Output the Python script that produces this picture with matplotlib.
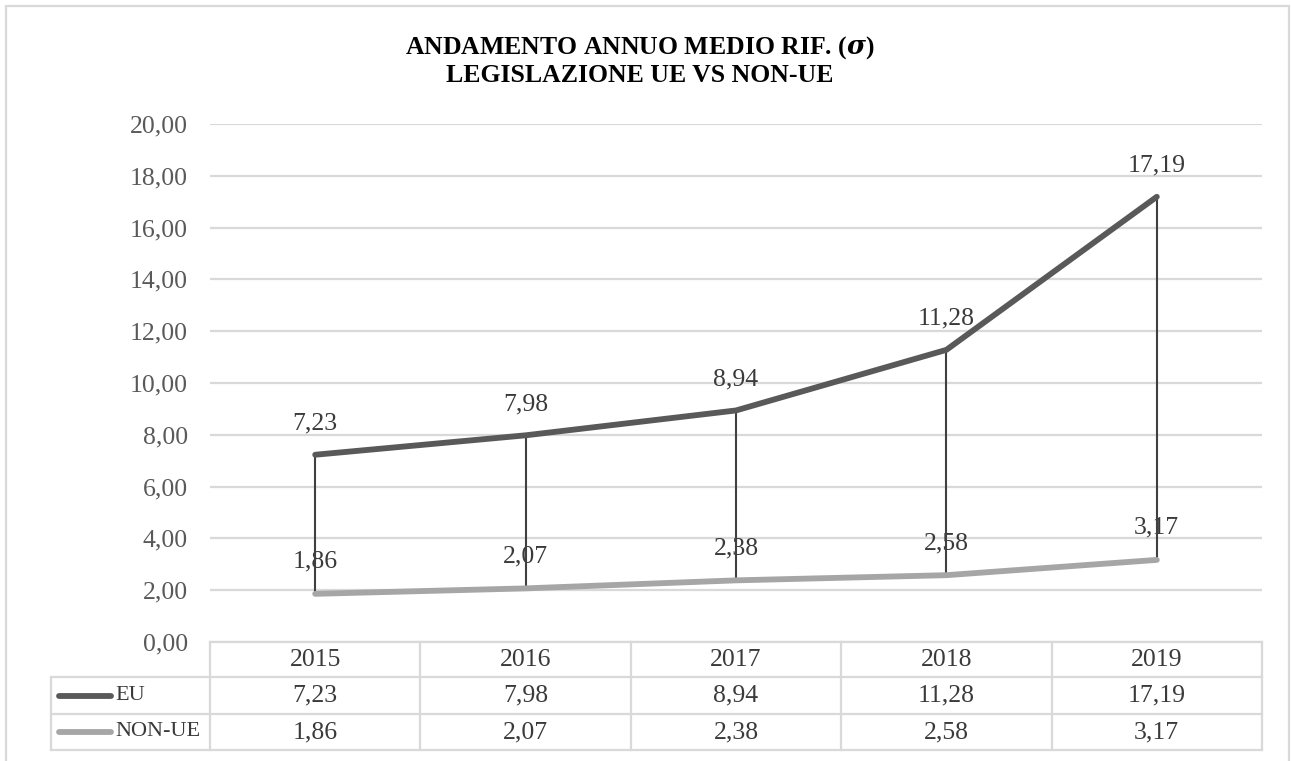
import matplotlib
matplotlib.use("Agg")
import matplotlib.pyplot as plt
from matplotlib.lines import Line2D
from matplotlib.patches import Rectangle

# --- data ---
years = ["2015", "2016", "2017", "2018", "2019"]
series_names = ["EU", "NON-UE"]
eu_values = [7.23, 7.98, 8.94, 11.28, 17.19]
nonue_values = [1.86, 2.07, 2.38, 2.58, 3.17]
y_ticks = [0, 2, 4, 6, 8, 10, 12, 14, 16, 18, 20]
title_line1 = "ANDAMENTO ANNUO MEDIO RIF. ("
title_line2 = "LEGISLAZIONE UE VS NON-UE"

plt.rcParams["font.family"] = ["Liberation Serif", "DejaVu Serif"]
plt.rcParams["mathtext.fontset"] = "custom"
plt.rcParams["mathtext.it"] = "DejaVu Serif:italic:bold"
plt.rcParams["mathtext.rm"] = "Liberation Serif:bold"

W, H = 1291, 761
fig = plt.figure(figsize=(W / 100, H / 100), dpi=100)


def fx(px):
    return px / W


def fy(py):
    return 1 - py / H


EU_COLOR = "#595959"
NON_COLOR = "#a6a6a6"
GRID = "#d9d9d9"
TEXT = "#3a3a3a"
FS = 18.5

# chart border
fig.add_artist(Rectangle((fx(6), fy(770)), fx(1289) - fx(6), fy(6) - fy(770),
                         transform=fig.transFigure, fill=False,
                         edgecolor=GRID, linewidth=1.6))

# plot area
left, right, top, bottom = 210, 1262, 124, 642
ax = fig.add_axes([fx(left), fy(bottom), fx(right) - fx(left), fy(top) - fy(bottom)])
x = list(range(len(years)))
ax.set_xlim(-0.5, len(years) - 0.5)
ax.set_ylim(0, 20)
ax.set_yticks(y_ticks)
ax.set_yticklabels([f"{v:.2f}".replace(".", ",") for v in y_ticks],
                   fontsize=FS, color="#595959")
ax.set_xticks([])
ax.tick_params(axis="y", length=0, pad=16)
for s in ax.spines.values():
    s.set_visible(False)
ax.yaxis.grid(True, color=GRID, linewidth=1.6)
ax.set_axisbelow(True)

# drop lines between the two series
ax.vlines(x, nonue_values, eu_values, color="#404040", linewidth=1.5, zorder=3)

ax.plot(x, eu_values, color=EU_COLOR, linewidth=4.2, solid_capstyle="round", zorder=4)
ax.plot(x, nonue_values, color=NON_COLOR, linewidth=4.2, solid_capstyle="round", zorder=4)

for xi, v in zip(x, eu_values):
    ax.annotate(f"{v:.2f}".replace(".", ","), (xi, v), xytext=(0, 22.5),
                textcoords="offset points", ha="center", va="center",
                fontsize=FS, color=TEXT, zorder=2)
for xi, v in zip(x, nonue_values):
    ax.annotate(f"{v:.2f}".replace(".", ","), (xi, v), xytext=(0, 23),
                textcoords="offset points", ha="center", va="center",
                fontsize=FS, color=TEXT, zorder=2)

# title
fig.text(fx(640), fy(48), title_line1 + r"$\sigma$" + ")", ha="center", va="center",
         fontsize=18.5, fontweight="bold", color="black")
fig.text(fx(640), fy(75), title_line2, ha="center", va="center",
         fontsize=18.5, fontweight="bold", color="black")

# data table
col_w = (right - left) / len(years)
row_y = [642, 677, 714, 750]
leg_left = 51


def hline(x0, x1, y):
    fig.add_artist(Line2D([fx(x0), fx(x1)], [fy(y), fy(y)], transform=fig.transFigure,
                          color=GRID, linewidth=1.6))


def vline(xp, y0, y1):
    fig.add_artist(Line2D([fx(xp), fx(xp)], [fy(y0), fy(y1)], transform=fig.transFigure,
                          color=GRID, linewidth=1.6))


hline(left, right, row_y[0])
for y in row_y[1:]:
    hline(leg_left, right, y)
for i in range(len(years) + 1):
    vline(left + i * col_w, row_y[0], row_y[3])
vline(leg_left, row_y[1], row_y[3])

for i, yr in enumerate(years):
    cx = left + (i + 0.5) * col_w
    fig.text(fx(cx), fy((row_y[0] + row_y[1]) / 2), yr, ha="center", va="center",
             fontsize=FS, color=TEXT)

rows = [(series_names[0], eu_values, EU_COLOR), (series_names[1], nonue_values, NON_COLOR)]
for r, (name, vals, col) in enumerate(rows):
    cy = (row_y[r + 1] + row_y[r + 2]) / 2
    fig.add_artist(Line2D([fx(59), fx(111)], [fy(cy), fy(cy)], transform=fig.transFigure,
                          color=col, linewidth=4.2, solid_capstyle="round"))
    fig.text(fx(115), fy(cy), name, ha="left", va="center", fontsize=16, color=TEXT)
    for i, v in enumerate(vals):
        cx = left + (i + 0.5) * col_w
        fig.text(fx(cx), fy(cy), f"{v:.2f}".replace(".", ","), ha="center", va="center",
                 fontsize=FS, color=TEXT)

fig.savefig("out.png", dpi=100, facecolor="white")
